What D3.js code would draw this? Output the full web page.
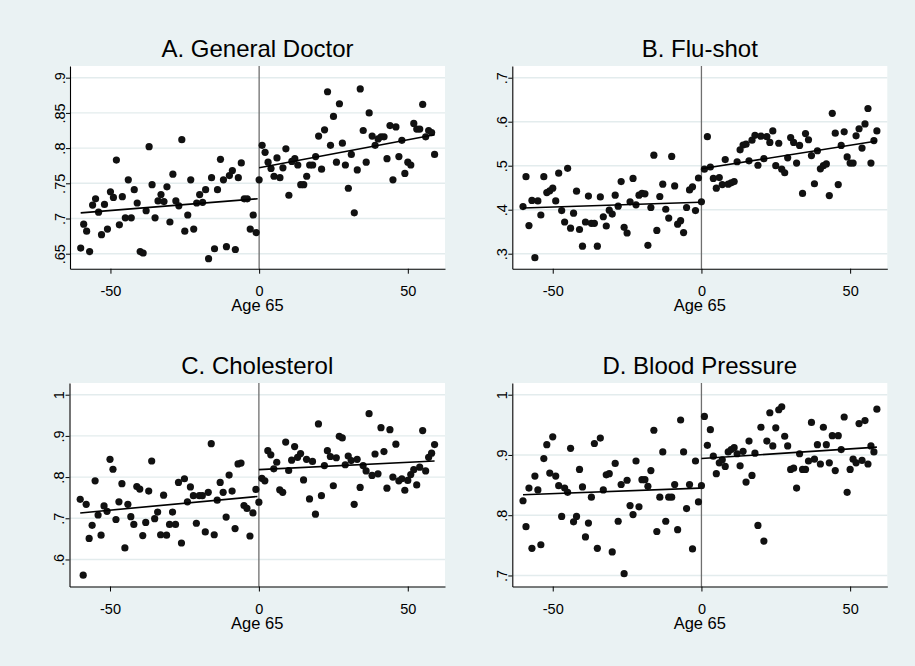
<!DOCTYPE html>
<html>
<head>
<meta charset="utf-8">
<script src="https://cdn.jsdelivr.net/npm/d3@7"></script>
<style>
  html, body { margin: 0; padding: 0; background: #eaf2f3; }
  svg { display: block; font-family: "Liberation Sans", Arial, sans-serif; }
</style>
</head>
<body>
<svg id="chart" width="915" height="666"></svg>
<script>
// months relative to age 65 (one bin per month)
const AGE = [
  -60, -59, -58, -57, -56, -55, -54, -53, -52, -51, -50, -49, -48, -47, -46, -45, -44, -43, -42, -41,
  -40, -39, -38, -37, -36, -35, -34, -33, -32, -31, -30, -29, -28, -27, -26, -25, -24, -23, -22, -21,
  -20, -19, -18, -17, -16, -15, -14, -13, -12, -11, -10, -9, -8, -7, -6, -5, -4, -3, -2, -1,
  0, 1, 2, 3, 4, 5, 6, 7, 8, 9, 10, 11, 12, 13, 14, 15, 16, 17, 18, 19,
  20, 21, 22, 23, 24, 25, 26, 27, 28, 29, 30, 31, 32, 33, 34, 35, 36, 37, 38, 39,
  40, 41, 42, 43, 44, 45, 46, 47, 48, 49, 50, 51, 52, 53, 54, 55, 56, 57, 58, 59
];

const GENERAL_DOCTOR = [
  .658, .692, .682, .653, .719, .728, .709, .677, .720, .685, .738, .730, .783, .691, .731, .701, .755, .701, .741, .722,
  .653, .651, .711, .802, .748, .701, .725, .734, .724, .745, .695, .763, .725, .718, .812, .682, .705, .755, .685, .722,
  .734, .723, .741, .643, .758, .657, .741, .784, .755, .660, .761, .768, .656, .758, .779, .728, .728, .685, .705, .680,
  .755, .804, .794, .780, .771, .760, .786, .758, .772, .799, .733, .781, .785, .776, .748, .748, .760, .776, .776, .788,
  .817, .770, .826, .880, .804, .845, .780, .863, .807, .776, .743, .791, .708, .769, .884, .825, .780, .850, .817, .804,
  .813, .816, .816, .785, .832, .755, .830, .788, .811, .764, .780, .776, .835, .827, .827, .862, .816, .825, .822, .791
];

const FLU_SHOT = [
  .407, .475, .364, .421, .291, .420, .388, .475, .439, .443, .449, .420, .483, .398, .372, .494, .358, .392, .442, .355,
  .317, .372, .431, .369, .369, .317, .429, .384, .363, .399, .390, .433, .408, .464, .360, .347, .418, .471, .411, .433,
  .437, .436, .319, .405, .524, .353, .430, .458, .401, .381, .521, .454, .367, .375, .348, .405, .445, .452, .398, .472,
  .418, .492, .566, .497, .471, .449, .473, .457, .514, .458, .461, .464, .509, .536, .547, .549, .511, .558, .569, .501,
  .567, .516, .566, .553, .579, .500, .551, .492, .484, .518, .564, .553, .506, .546, .437, .573, .559, .523, .459, .534,
  .493, .500, .504, .432, .619, .574, .457, .546, .577, .520, .506, .506, .568, .584, .540, .595, .630, .506, .557, .579
];

const CHOLESTEROL = [
  .746, .562, .734, .651, .683, .791, .708, .659, .730, .717, .843, .819, .697, .740, .784, .628, .734, .704, .685, .777,
  .771, .658, .690, .766, .839, .699, .715, .660, .756, .659, .685, .715, .685, .787, .640, .796, .740, .776, .755, .688,
  .755, .755, .667, .763, .881, .660, .744, .787, .763, .703, .805, .766, .675, .832, .834, .731, .724, .657, .713, .770,
  .739, .797, .791, .864, .854, .820, .836, .769, .763, .885, .816, .841, .874, .848, .857, .793, .843, .747, .838, .710,
  .929, .755, .828, .864, .850, .779, .847, .899, .895, .830, .851, .840, .734, .843, .775, .828, .815, .954, .804, .856,
  .808, .920, .862, .773, .915, .800, .880, .791, .796, .768, .792, .806, .818, .781, .824, .913, .815, .848, .858, .879
];

const BLOOD_PRESSURE = [
  .824, .781, .845, .745, .865, .842, .751, .894, .917, .870, .930, .865, .849, .798, .845, .838, .911, .789, .798, .876,
  .847, .764, .787, .830, .919, .745, .928, .842, .867, .869, .739, .886, .790, .851, .703, .858, .816, .801, .890, .814,
  .859, .859, .848, .874, .941, .773, .830, .905, .790, .830, .830, .851, .776, .958, .905, .811, .851, .744, .890, .822,
  .849, .964, .916, .942, .898, .869, .887, .892, .881, .905, .909, .912, .902, .882, .906, .855, .923, .866, .903, .783,
  .946, .757, .923, .970, .915, .945, .975, .980, .931, .915, .876, .878, .845, .902, .876, .876, .890, .954, .893, .917,
  .885, .946, .917, .887, .932, .874, .932, .909, .963, .838, .876, .893, .887, .952, .891, .957, .885, .915, .905, .976
];

// fitted lines, read at their ends: below age 65 and from age 65 on
const FIT_X_BELOW = [-60, -0.5];
const FIT_X_ABOVE = [0, 59];
const FIT_GENERAL_DOCTOR = [[.708, .728], [.772, .819]];
const FIT_FLU_SHOT = [[.404, .417], [.493, .556]];
const FIT_CHOLESTEROL = [[.713, .753], [.818, .839]];
const FIT_BLOOD_PRESSURE = [[.834, .845], [.894, .913]];

const TITLES = ["A. General Doctor", "B. Flu-shot", "C. Cholesterol", "D. Blood Pressure"];
const X_TICKS = [-50, 0, 50];
const X_LABEL = "Age 65";
const Y_TICKS_A = [.65, .7, .75, .8, .85, .9];
const Y_TICKS_B = [.3, .4, .5, .6, .7];
const Y_TICKS_C = [.6, .7, .8, .9, 1];
const Y_TICKS_D = [.7, .8, .9, 1];

// stata style tick labels: ".65", "1", "-50"
const stataFmt = v => String(+v.toFixed(3)).replace(/^0\./, ".");

const BG = "#eaf2f3";
const svg = d3.select("#chart");
svg.append("rect").attr("width", 915).attr("height", 666).attr("fill", BG);

const X_DOMAIN = [-63.6, 62.5];

const panels = [
  {title: TITLES[0], y: GENERAL_DOCTOR, fit: FIT_GENERAL_DOCTOR, ticks: Y_TICKS_A, yDomain: [0.6287, 0.9166],
    box: {left: 70, right: 445, top: 66, bottom: 268.7}},
  {title: TITLES[1], y: FLU_SHOT, fit: FIT_FLU_SHOT, ticks: Y_TICKS_B, yDomain: [0.2659, 0.7266],
    box: {left: 512.3, right: 887.3, top: 66, bottom: 268.7}},
  {title: TITLES[2], y: CHOLESTEROL, fit: FIT_CHOLESTEROL, ticks: Y_TICKS_C, yDomain: [0.5344, 1.0284],
    box: {left: 69.5, right: 445, top: 383, bottom: 586.5}},
  {title: TITLES[3], y: BLOOD_PRESSURE, fit: FIT_BLOOD_PRESSURE, ticks: Y_TICKS_D, yDomain: [0.6817, 1.0194],
    box: {left: 512.3, right: 887.3, top: 383, bottom: 586.5}}
];

function drawPanel(p) {
  const b = p.box;
  const x = d3.scaleLinear().domain(X_DOMAIN).range([b.left, b.right]);
  const y = d3.scaleLinear().domain(p.yDomain).range([b.bottom, b.top]);
  const g = svg.append("g");

  g.append("rect")
    .attr("x", b.left).attr("y", b.top)
    .attr("width", b.right - b.left).attr("height", b.bottom - b.top)
    .attr("fill", "#ffffff");

  // grid
  g.append("g").selectAll("line").data(p.ticks).join("line")
    .attr("x1", b.left).attr("x2", b.right)
    .attr("y1", d => y(d)).attr("y2", d => y(d))
    .attr("stroke", "#e3eced").attr("stroke-width", 1.4);

  // cutoff at age 65
  g.append("line")
    .attr("x1", x(0)).attr("x2", x(0))
    .attr("y1", b.top).attr("y2", b.bottom)
    .attr("stroke", "#6f6f6f").attr("stroke-width", 1.3);

  g.append("g").selectAll("circle").data(AGE).join("circle")
    .attr("cx", (d, i) => x(d))
    .attr("cy", (d, i) => y(p.y[i]))
    .attr("r", 3.6)
    .attr("fill", "#111111");

  const line = d3.line().x(d => x(d[0])).y(d => y(d[1]));
  [[FIT_X_BELOW, p.fit[0]], [FIT_X_ABOVE, p.fit[1]]].forEach(([xs, ys]) => {
    g.append("path")
      .datum(d3.zip(xs, ys))
      .attr("d", line)
      .attr("fill", "none")
      .attr("stroke", "#000")
      .attr("stroke-width", 1.6);
  });

  // axes
  const xAxis = g.append("g")
    .attr("transform", `translate(0,${b.bottom})`)
    .call(d3.axisBottom(x).tickValues(X_TICKS).tickSize(5).tickSizeOuter(0).tickFormat(d => String(d)));
  xAxis.selectAll("text")
    .attr("y", 27.5).attr("dy", 0)
    .attr("font-size", 14.5).attr("fill", "#000")
    .attr("font-family", "'Liberation Sans', Arial, sans-serif");

  const yAxis = g.append("g")
    .attr("transform", `translate(${b.left},0)`)
    .call(d3.axisLeft(y).tickValues(p.ticks).tickSize(4).tickSizeOuter(0).tickFormat(stataFmt));
  yAxis.selectAll("text")
    .attr("x", 0).attr("y", -5.5).attr("dy", 0)
    .attr("text-anchor", "middle")
    .attr("transform", "rotate(-90)")
    .attr("font-size", 14.5).attr("fill", "#000")
    .attr("font-family", "'Liberation Sans', Arial, sans-serif");

  [xAxis, yAxis].forEach(a => {
    a.select(".domain").attr("stroke", "#000").attr("stroke-width", 1.1);
    a.selectAll(".tick line").attr("stroke", "#000").attr("stroke-width", 1);
  });

  g.append("text")
    .attr("x", (b.left + b.right) / 2).attr("y", b.bottom + 42.5)
    .attr("text-anchor", "middle")
    .attr("font-size", 16.5)
    .text(X_LABEL);

  g.append("text")
    .attr("x", (b.left + b.right) / 2).attr("y", b.top - 9)
    .attr("text-anchor", "middle")
    .attr("font-size", 24)
    .text(p.title);
}

panels.forEach(drawPanel);
</script>
</body>
</html>
